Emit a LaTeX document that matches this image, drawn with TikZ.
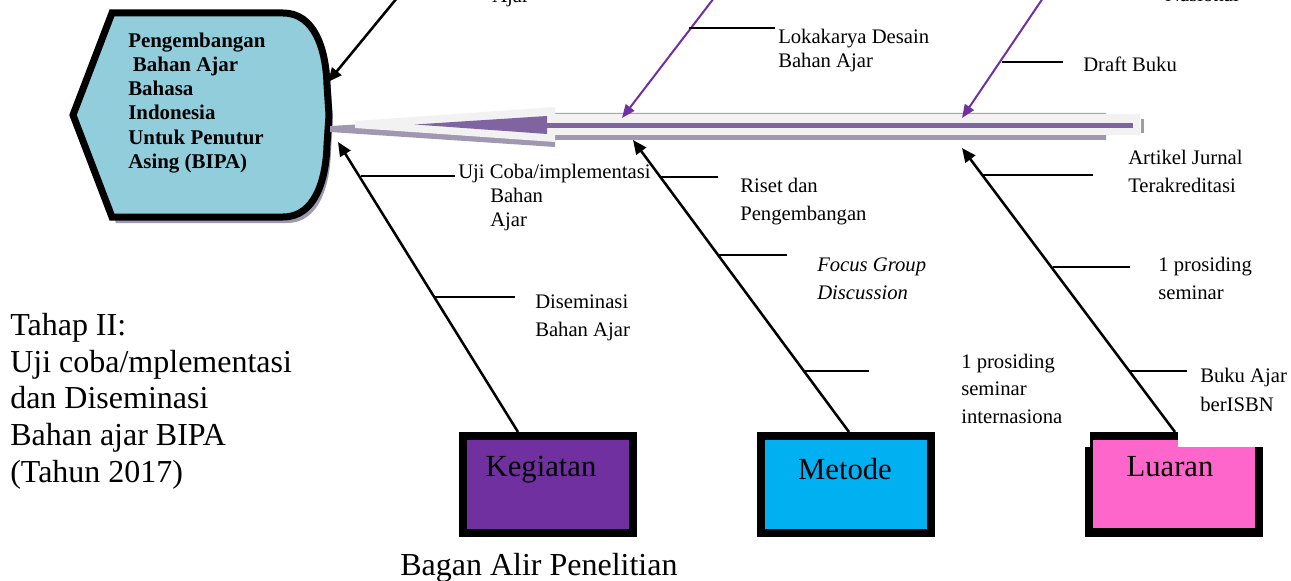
\documentclass[tikz,border=0pt]{standalone}
\usepackage{fontspec}
\setmainfont{Liberation Serif}
\usetikzlibrary{arrows.meta}
\definecolor{hexfill}{RGB}{146,205,220}
\definecolor{shadowc}{RGB}{160,152,176}
\definecolor{spinegrey}{RGB}{242,242,242}
\definecolor{spinepurple}{RGB}{128,100,162}
\definecolor{arrowpurple}{RGB}{112,48,160}
\definecolor{kegc}{RGB}{112,48,160}
\definecolor{metc}{RGB}{0,176,240}
\definecolor{luac}{RGB}{255,102,204}
\begin{document}
\begin{tikzpicture}[x=0.75pt,y=-0.75pt,
  lbl/.style={font=\fontsize{15.5}{18}\selectfont, align=left, anchor=base west, inner sep=0pt},
  lblw/.style={font=\fontsize{15.5}{20.5}\selectfont, align=left, anchor=base west, inner sep=0pt},
  bigtxt/.style={font=\fontsize{24}{27.5}\selectfont, align=left, anchor=base west, inner sep=0pt},
  boxtxt/.style={font=\fontsize{23}{27}\selectfont, anchor=base, inner sep=0pt},
  bone/.style={draw=black, line width=1.9pt, -{Triangle[length=10.5pt,width=9pt]}},
  pbone/.style={draw=arrowpurple, line width=1.5pt, -{Triangle[length=10pt,width=8pt]}},
  twig/.style={draw=black, line width=1.2pt},
  catbox/.style={draw=black, line width=6pt, minimum width=127.5pt, minimum height=72.75pt, inner sep=0pt}
]
\useasboundingbox (0,0) rectangle (1291,581);
\clip (0,0) rectangle (1291,581);

% ---- head (hexagon) ----
\fill[shadowc, shift={(4,6)}] (112,13) -- (283,13) .. controls (315,13) and (326,50) .. (327,85) -- (329,115) -- (327,145) .. controls (326,180) and (315,217) .. (283,217) -- (112,217) -- (73,115) -- cycle;
\draw[fill=hexfill, line width=5.25pt] (112,13) -- (283,13) .. controls (315,13) and (326,50) .. (327,85) -- (329,115) -- (327,145) .. controls (326,180) and (315,217) .. (283,217) -- (112,217) -- (73,115) -- cycle;
\node[font=\bfseries\fontsize{15.7}{18.2}\selectfont, align=left, anchor=base west, inner sep=0pt] (head) at (128,168.5)
  {Pengembangan\\\hspace*{3.5pt}Bahan Ajar\\Bahasa\\Indonesia\\Untuk Penutur\\Asing (BIPA)};

% ---- spine ----
\fill[shadowc] (330,126) -- (555,113) -- (1106,113) -- (1106,140) -- (555,140) -- (555,147) -- (330,132) -- cycle;
\fill[spinegrey] (355,121) -- (555,107) -- (555,114) -- (1140,114) -- (1140,135) -- (555,135) -- (555,142) -- (355,128) -- cycle;
\fill[shadowc] (1141,119) rectangle (1143.5,133);
\draw[spinepurple, line width=3.75pt] (1133,125.5) -- (545,125.5);
\fill[spinepurple] (547,116) -- (547,134) -- (415,124.5) -- cycle;

% ---- coordinates ----
\coordinate (t0) at (397,-2);
\coordinate (t1) at (328,82);
\coordinate (p0) at (714,-2);
\coordinate (p1) at (622,118);
\coordinate (q0) at (1043,-2);
\coordinate (q1) at (962,118);
\coordinate (k0) at (518,432);
\coordinate (k1) at (338,142);
\coordinate (m0) at (849,432);
\coordinate (m1) at (633,140);
\coordinate (l0) at (1175,432);
\coordinate (l1) at (962,148);

% ---- boxes ----
\node[catbox, fill=kegc] (keg) at (548,484.5) {};
\node[catbox, fill=metc] (met) at (846,484.5) {};
\fill[black] (1085,447) rectangle (1263,537);
\fill[black] (1090,432) rectangle (1178,447);
\fill[luac] (1093,440) rectangle (1178,528);
\fill[luac] (1093,447) rectangle (1255,528);
\node[boxtxt] (kegt) at (541,476) {Kegiatan};
\node[boxtxt] (mett) at (845,479) {Metode};
\node[boxtxt] (luat) at (1170,476) {Luaran};

% ---- bones ----
\draw[bone] (t0) -- (t1);
\draw[pbone] (p0) -- (p1);
\draw[pbone] (q0) -- (q1);
\draw[bone] (k0) -- (k1);
\draw[bone] (m0) -- (m1);
\draw[bone] (l0) -- (l1);

% ---- twigs ----
\draw[twig] (689,28) -- (775,28);
\draw[twig] (1002,62) -- (1063,62);
\draw[twig] (361,176) -- (455,176);
\draw[twig] (435,297) -- (515,297);
\draw[twig] (659,177) -- (718,177);
\draw[twig] (718,255) -- (787,255);
\draw[twig] (803,371) -- (869,371);
\draw[twig] (981,175) -- (1093,175);
\draw[twig] (1053,267) -- (1130,267);
\draw[twig] (1130,371) -- (1187,371);

% ---- labels ----
\node[lbl] (ajartop) at (492,3) {Ajar};
\node[lbl] (nastop) at (1165,1.5) {Nasional};
\node[lbl] (loka) at (778,68) {Lokakarya Desain\\Bahan Ajar};
\node[lbl] (draft) at (1083,72) {Draft Buku};
\node[lbl] (uji) at (458,226) {Uji Coba/implementasi\\\hspace*{24pt}Bahan\\\hspace*{24pt}Ajar};
\node[lblw] (riset) at (740,220) {Riset dan\\Pengembangan};
\node[lblw] (dis) at (535,336) {Diseminasi\\Bahan Ajar};
\node[lblw, font=\itshape\fontsize{15.5}{20.5}\selectfont] (fgd) at (817,299) {Focus Group\\Discussion};
\node[lblw] (pros1) at (961,423) {1 prosiding\\seminar\\internasiona};
\node[lblw] (art) at (1128,192) {Artikel Jurnal\\Terakreditasi};
\node[lblw] (pros2) at (1158,299) {1 prosiding\\seminar};
\node[lblw, font=\fontsize{15.5}{21.5}\selectfont] (buku) at (1200,411) {Buku Ajar\\berISBN};

\node[bigtxt] (tahap) at (10,482) {Tahap II:\\Uji coba/mplementasi\\dan Diseminasi\\Bahan ajar BIPA\\(Tahun 2017)};
\node[font=\fontsize{24}{27}\selectfont, anchor=base west, inner sep=0pt] (bagan) at (400,575) {Bagan Alir Penelitian};
\end{tikzpicture}
\end{document}
